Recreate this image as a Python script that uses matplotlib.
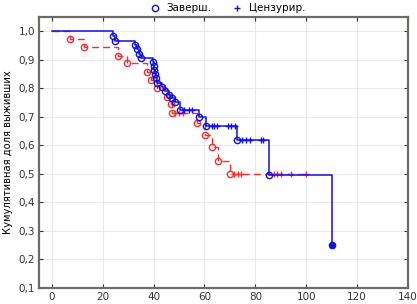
import numpy as np
import matplotlib
matplotlib.use("Agg")
import matplotlib.pyplot as plt
from matplotlib.ticker import FuncFormatter

# =======================
# DATA
# =======================
# group 1 (blue, solid): event times and survival after each event
blue_event_t = [24, 25, 32.7, 33.5, 34.2, 35, 39.6, 40, 40.3, 40.6, 41, 41.5,
                43.5, 44.5, 46, 47.4, 48.5, 50.5, 57.9, 60.5, 72.7, 85.5, 110]
blue_event_s = [0.983, 0.967, 0.952, 0.937, 0.922, 0.907, 0.893, 0.878, 0.864,
                0.850, 0.835, 0.820, 0.805, 0.790, 0.778, 0.765, 0.752, 0.724,
                0.698, 0.667, 0.620, 0.497, 0.250]
blue_cens_t = [52, 54, 55.3, 62.9, 63.8, 65.1, 69.4, 70.3, 72.0,
               74.9, 76.5, 78, 82.3, 83.2]

# group 2 (red, dashed)
red_event_t = [7.2, 12.7, 26.2, 29.7, 37.3, 38.9, 41.5, 45.2, 46.8, 47.4,
               57.2, 60.1, 63.1, 65.5, 70]
red_event_s = [0.972, 0.944, 0.915, 0.887, 0.858, 0.828, 0.800, 0.771, 0.744,
               0.714, 0.677, 0.636, 0.593, 0.545, 0.500]
red_cens_t = [48.5, 50, 51.5, 71.6, 73, 74.3, 87.4, 88.7, 90, 94, 100]

LEGEND_LABELS = ["Заверш.", "Цензурир."]
Y_LABEL = "Кумулятивная доля выживших"


def step_curve(ev_t, ev_s, cens_t):
    """Build step coordinates starting from 1.0 at t=0."""
    t_end = max(ev_t + cens_t)
    xs = [0] + list(ev_t) + [t_end]
    ys = [1.0] + list(ev_s) + [ev_s[-1]]
    return xs, ys


def level_at(ev_t, ev_s, t):
    s = 1.0
    for et, es in zip(ev_t, ev_s):
        if et <= t:
            s = es
    return s


plt.rcParams['font.family'] = ['DejaVu Sans']
fig = plt.figure(figsize=(4.17, 3.04), dpi=100)
ax = fig.add_axes([0.0935, 0.053, 0.885, 0.891])

BLUE = '#1010e0'
RED = '#f03030'

# red group
rx, ry = step_curve(red_event_t, red_event_s, red_cens_t)
ax.step(rx, ry, where='post', color=RED, lw=1.0, ls=(0, (5, 3)), zorder=3)
ax.plot(red_event_t, red_event_s, 'o', ms=4.5, mfc='none', mec=RED, mew=1.0, zorder=4)
ax.plot(red_cens_t, [level_at(red_event_t, red_event_s, t) for t in red_cens_t],
        '+', ms=5, color=RED, mew=1.0, zorder=4)

# blue group
bx, by = step_curve(blue_event_t, blue_event_s, blue_cens_t)
bx[-1] = blue_event_t[-1]
ax.step(bx, by, where='post', color=BLUE, lw=1.1, zorder=5)
ax.plot(blue_event_t[:-1], blue_event_s[:-1], 'o', ms=4.5, mfc='none', mec=BLUE,
        mew=1.0, zorder=6)
ax.plot(blue_event_t[-1:], blue_event_s[-1:], 'o', ms=4.5, color=BLUE, zorder=6)
ax.plot(blue_cens_t, [level_at(blue_event_t, blue_event_s, t) for t in blue_cens_t],
        '+', ms=5, color=BLUE, mew=1.0, zorder=6)

# axes styling
ax.set_xlim(-5, 140)
ax.set_ylim(0.1, 1.05)
ax.set_xticks(np.arange(0, 141, 20))
ax.set_yticks(np.arange(0.1, 1.01, 0.1))
ax.yaxis.set_major_formatter(FuncFormatter(lambda v, p: f"{v:.1f}".replace('.', ',')))
ax.grid(True, color='#e8e8ee', lw=0.8)
ax.set_axisbelow(True)
ax.tick_params(labelsize=7.5, direction='in', length=3, right=True, top=True,
               colors='#333333', pad=3)
for sp in ax.spines.values():
    sp.set_color('#6e6a66')
    sp.set_linewidth(1.6)
ax.set_ylabel(Y_LABEL, fontsize=7.2, labelpad=4)

# legend above the plot
h1, = ax.plot([], [], 'o', ms=4.5, mfc='none', mec=BLUE, mew=1.0)
h2, = ax.plot([], [], '+', ms=5, color=BLUE, mew=1.0)
fig.legend([h1, h2], LEGEND_LABELS, loc='upper center', bbox_to_anchor=(0.545, 1.02),
           ncol=2, frameon=False, fontsize=7.5, handlelength=1.0, handletextpad=0.6,
           columnspacing=2.0)

fig.savefig("out.png", dpi=100)
